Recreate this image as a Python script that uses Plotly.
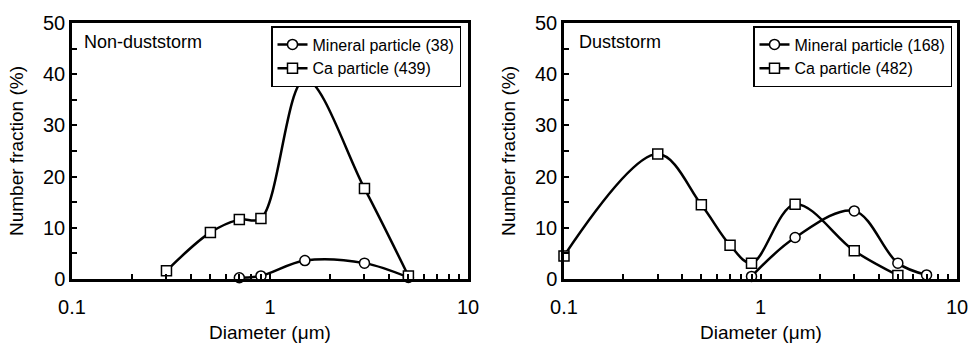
import plotly.graph_objects as go

# ---- data ----
nd_mineral_x = [0.7, 0.9, 1.5, 3, 5]
nd_mineral_y = [0.25, 0.6, 3.6, 3.1, 0.3]
nd_ca_x = [0.3, 0.5, 0.7, 0.9, 1.5, 3, 5]
nd_ca_y = [1.6, 9.1, 11.6, 11.8, 39.0, 17.7, 0.6]

ds_mineral_x = [0.9, 1.5, 3, 5, 7]
ds_mineral_y = [0.5, 8.1, 13.3, 3.1, 0.8]
ds_ca_x = [0.1, 0.3, 0.5, 0.7, 0.9, 1.5, 3, 5]
ds_ca_y = [4.5, 24.4, 14.5, 6.6, 3.1, 14.6, 5.5, 0.7]

nd_names = ["Mineral particle (38)", "Ca particle (439)"]
ds_names = ["Mineral particle (168)", "Ca particle (482)"]
panel_titles = ["Non-duststorm", "Duststorm"]
x_title = "Diameter (μm)"
y_title = "Number fraction (%)"

x_tickvals = [0.1, 0.2, 0.3, 0.4, 0.5, 0.6, 0.7, 0.8, 0.9, 1, 2, 3, 4, 5, 6, 7, 8, 9, 10]
x_ticktext = ["0.1", "", "", "", "", "", "", "", "", "1", "", "", "", "", "", "", "", "", "10"]
y_tickvals = [0, 5, 10, 15, 20, 25, 30, 35, 40, 45, 50]
y_ticktext = ["0", "", "10", "", "20", "", "30", "", "40", "", "50"]

FONT = "Arial"

# body margin is removed in the page (post_script), so the figure fills the window
W, H = 968, 343
PL, PR, PT, PB = 72, 957, 23, 279          # plot-area edges in the window
L, T, R, B = PL, PT, W - PR, H - PB
pw = PR - PL
ph = PB - PT
left_end = (468 - PL) / pw
right_start = (564 - PL) / pw

fig = go.Figure()

def add(x, y, name, symbol, xa, ya, legend, msize):
    fig.add_trace(go.Scatter(
        x=x, y=y, name=name, mode="lines+markers",
        line=dict(color="black", width=2.5, shape="spline", smoothing=1.0),
        marker=dict(symbol=symbol, size=msize, color="white",
                    line=dict(color="black", width=1.5)),
        xaxis=xa, yaxis=ya, legend=legend, cliponaxis=False,
    ))

add(nd_mineral_x, nd_mineral_y, nd_names[0], "circle", "x", "y", "legend", 10)
add(nd_ca_x, nd_ca_y, nd_names[1], "square", "x", "y", "legend", 10)
add(ds_mineral_x, ds_mineral_y, ds_names[0], "circle", "x2", "y2", "legend2", 10)
add(ds_ca_x, ds_ca_y, ds_names[1], "square", "x2", "y2", "legend2", 10)

xcommon = dict(
    type="log", range=[-1, 1], tickvals=x_tickvals, ticktext=x_ticktext,
    ticks="inside", ticklen=5, tickwidth=2, tickcolor="black",
    showline=True, linewidth=2.5, linecolor="black", mirror=True,
    showgrid=False, zeroline=False, automargin=False, ticklabelstandoff=8,
    ticklabeloverflow="allow",
    tickfont=dict(family=FONT, size=20, color="black"),
)
ycommon = dict(
    range=[0, 50], tickvals=y_tickvals, ticktext=y_ticktext,
    ticks="inside", ticklen=5, tickwidth=2, tickcolor="black",
    showline=True, linewidth=2.5, linecolor="black", mirror=True,
    showgrid=False, zeroline=False, automargin=False,
    tickfont=dict(family=FONT, size=20, color="black"),
    title=dict(text=y_title, font=dict(family=FONT, size=19, color="black")),
)

legcommon = dict(
    bgcolor="white", bordercolor="black", borderwidth=1.5,
    font=dict(family=FONT, size=16, color="black"),
    xanchor="right", yanchor="top", tracegroupgap=0,
)

title_y = -(332 - PB) / ph
annotations = []
for xa in ["x domain", "x2 domain"]:
    annotations.append(dict(
        text=x_title, xref=xa, yref="paper", x=0.5, y=title_y,
        xanchor="center", yanchor="middle", showarrow=False,
        font=dict(family=FONT, size=19, color="black")))
annotations += [
    dict(text=panel_titles[0], x=(82 - PL) / pw, y=1 - (42 - PT) / ph,
         xref="paper", yref="paper", xanchor="left", yanchor="middle",
         showarrow=False, font=dict(family=FONT, size=18, color="black")),
    dict(text=panel_titles[1], x=(577 - PL) / pw, y=1 - (42 - PT) / ph,
         xref="paper", yref="paper", xanchor="left", yanchor="middle",
         showarrow=False, font=dict(family=FONT, size=18, color="black")),
]

fig.update_layout(
    width=W, height=H,
    margin=dict(l=L, r=R, t=T, b=B, pad=0, autoexpand=False),
    paper_bgcolor="white", plot_bgcolor="white",
    xaxis=dict(domain=[0, left_end], anchor="y", **xcommon),
    yaxis=dict(domain=[0, 1], anchor="x", **ycommon),
    xaxis2=dict(domain=[right_start, 1], anchor="y2", **xcommon),
    yaxis2=dict(domain=[0, 1], anchor="x2", **ycommon),
    legend=dict(x=(461 - PL) / pw, y=1 - (26 - PT) / ph, **legcommon),
    legend2=dict(x=(952 - PL) / pw, y=1 - (26 - PT) / ph, **legcommon),
    showlegend=True,
    annotations=annotations,
)

fig.write_html(
    "out.html",
    config={"displayModeBar": False},
    post_script="document.body.style.margin='0px';document.body.style.overflow='hidden';",
)
